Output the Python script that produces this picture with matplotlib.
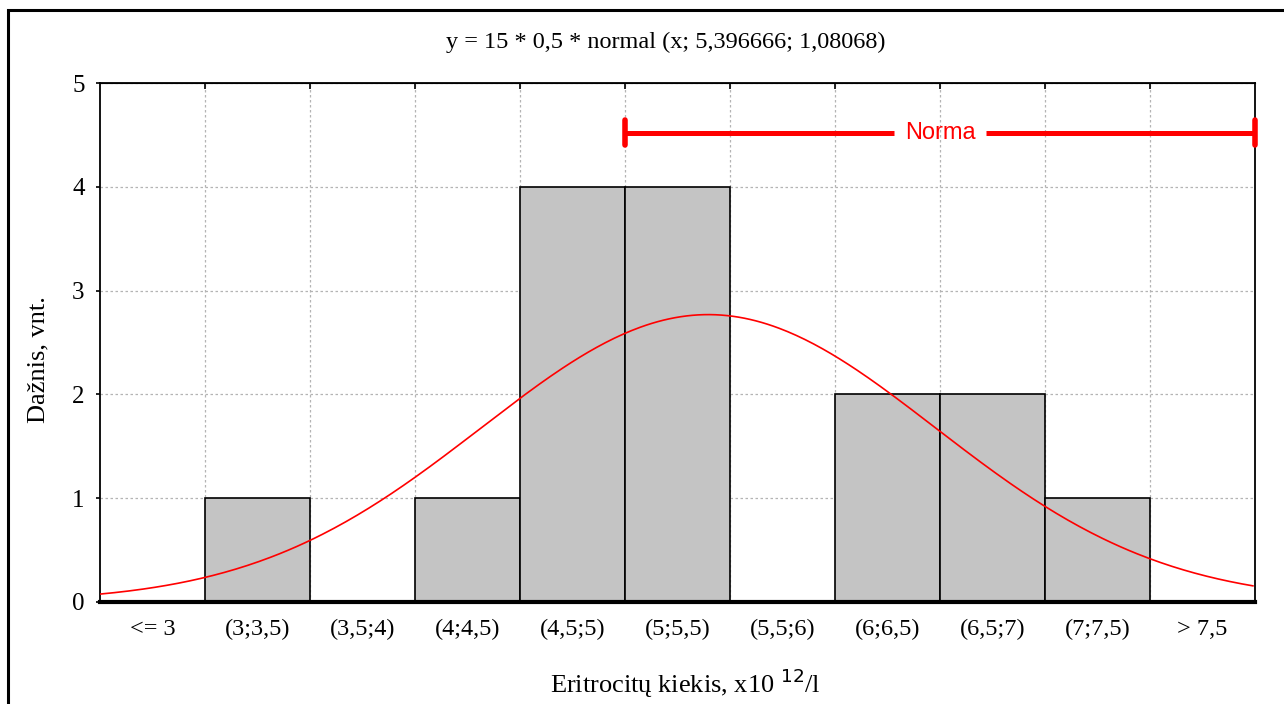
import numpy as np
import matplotlib
matplotlib.use("Agg")
import matplotlib.pyplot as plt
from matplotlib.patches import Rectangle

categories = ["<= 3", "(3;3,5)", "(3,5;4)", "(4;4,5)", "(4,5;5)", "(5;5,5)",
              "(5,5;6)", "(6;6,5)", "(6,5;7)", "(7;7,5)", "> 7,5"]
counts = [0, 1, 0, 1, 4, 4, 0, 2, 2, 1, 0]
bin_left_edges = [2.5, 3.0, 3.5, 4.0, 4.5, 5.0, 5.5, 6.0, 6.5, 7.0, 7.5]
bin_width = 0.5
n_total = 15
mu, sigma = 5.396666, 1.08068
norma_range = (5.0, 8.0)
norma_level = 4.52
y_ticks = [0, 1, 2, 3, 4, 5]

serif = ["Liberation Serif", "DejaVu Serif"]
sans = ["Liberation Sans", "DejaVu Sans"]

fig = plt.figure(figsize=(12.84, 7.04), dpi=100)
# outer frame
fig.patches.append(Rectangle((8/1284, -0.1), 1.2, 1 - 10/704 + 0.1,
                             transform=fig.transFigure, fill=False,
                             edgecolor="black", linewidth=2.2))

ax = fig.add_axes([100/1284, 1 - 602/704, 1155/1284, (602 - 83)/704])
ax.set_xlim(2.5, 8.0)
ax.set_ylim(0, 5)

# grid
for xe in bin_left_edges[1:]:
    ax.axvline(xe, color="#b4b4b4", linestyle=(0, (2, 2)), linewidth=0.9, zorder=0)
for yt in y_ticks[1:]:
    ax.axhline(yt, color="#b4b4b4", linestyle=(0, (2, 2)), linewidth=0.9, zorder=0)

ax.bar(bin_left_edges, counts, width=bin_width, align="edge",
       color="#c4c4c4", edgecolor="black", linewidth=1.2, zorder=2)
ax.plot([2.5, 8.0], [0, 0], color="black", linewidth=3, zorder=3, clip_on=False)

xs = np.linspace(2.5, 7.5 + 0.5 * 0.98, 400)
ys = n_total * bin_width * np.exp(-0.5 * ((xs - mu) / sigma) ** 2) / (sigma * np.sqrt(2 * np.pi))
ax.plot(xs, ys, color="red", linewidth=1.2, zorder=4)

# Norma line
mid = (norma_range[0] + norma_range[1]) / 2
gap = 0.217
ax.plot([norma_range[0], mid - gap], [norma_level, norma_level], color="red", linewidth=3.6, zorder=5, solid_capstyle="butt")
ax.plot([mid + gap, norma_range[1]], [norma_level, norma_level], color="red", linewidth=3.6, zorder=5, solid_capstyle="butt")
for xe in norma_range:
    ax.plot([xe, xe], [norma_level - 0.12, norma_level + 0.12], color="red", linewidth=4,
            solid_capstyle="round", zorder=5, clip_on=False)
ax.text(mid, norma_level, "Norma", color="red", ha="center", va="center",
        fontsize=17, family=sans, zorder=6)

ax.set_xticks([e + bin_width / 2 for e in bin_left_edges])
ax.set_xticklabels(categories, family=serif, fontsize=17.5)
ax.tick_params(axis="x", length=0, pad=12)
ax.set_yticks(y_ticks)
ax.set_yticklabels([str(t) for t in y_ticks], family=serif, fontsize=18)
ax.tick_params(axis="y", direction="out", length=3, width=1.2, pad=8)

# top ticks at boundaries
axt = ax.secondary_xaxis("top")
axt.set_xticks(bin_left_edges[1:])
axt.set_xticklabels([])
axt.tick_params(direction="in", length=4, width=1.2)

for s in ax.spines.values():
    s.set_linewidth(1.3)

fig.text(666/1284, 1 - 42/704, "y = 15 * 0,5 * normal (x; 5,396666; 1,08068)",
         ha="center", va="center", family=serif, fontsize=17.5)
fig.text(38/1284, 1 - 360/704, "Dažnis, vnt.", rotation=90,
         ha="center", va="center", family=serif, fontsize=19)
fig.text(685/1284, 1 - 683/704, "Eritrocitų kiekis, x10 $^{12}$/l",
         ha="center", va="center", family=serif, fontsize=19)

fig.savefig("out.png", dpi=100)
